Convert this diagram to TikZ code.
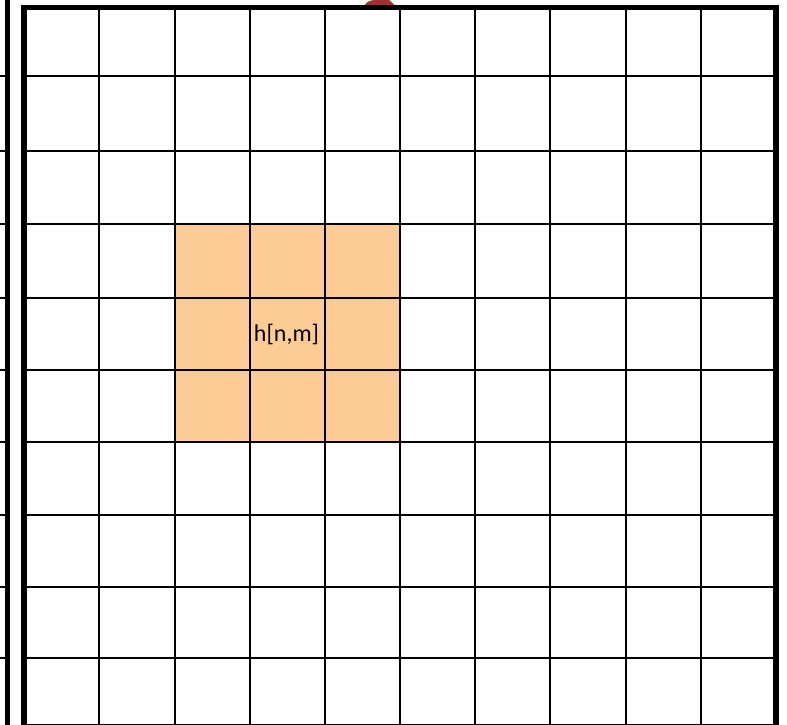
\documentclass[tikz,border=0pt]{standalone}
\usepackage{fontspec}
\setmainfont{Carlito}
\definecolor{cellorange}{HTML}{FCCB96}
\definecolor{tipred}{HTML}{A3302F}
\begin{document}
\begin{tikzpicture}[x=1pt,y=-1pt,
  thinline/.style={line width=2.4pt,black},
  thickline/.style={line width=5.6pt,black},
  label/.style={font=\fontsize{24}{28}\selectfont,inner sep=0pt}]
\useasboundingbox (0,0) rectangle (787,725);
\fill[white] (0,0) rectangle (787,725);
% red tip behind top border
\fill[tipred] (363,9) .. controls (365,2) and (369,0) .. (376,0) -- (389,0) -- (399,9) -- cycle;
% orange block
\fill[cellorange] (175,224) rectangle (400,442);
% horizontal grid lines
\foreach \y in {76,151,224,298,370,442,515,587,658,725}
  \draw[thinline] (24,\y) -- (776,\y);
% vertical grid lines
\foreach \x in {99,175,250,325,400,475,550,626,701}
  \draw[thinline] (\x,7.5) -- (\x,725);
% outer thick border
\draw[thickline] (24,725) -- (24,7.5) -- (776,7.5) -- (776,725);
% partial grid on the left
\draw[thickline] (7.5,0) -- (7.5,725);
\foreach \y in {76,151,224,298,370,442,515,587,658}
  \draw[thinline] (0,\y) -- (7.5,\y);
\node[label] (h) at (286.5,334) {h[n,m]};
\end{tikzpicture}
\end{document}
